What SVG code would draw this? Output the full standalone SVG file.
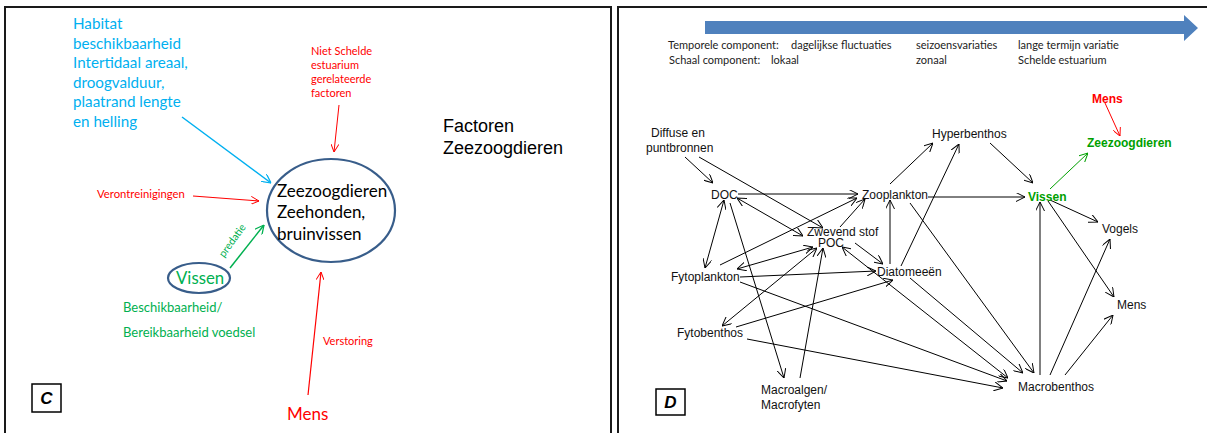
<svg xmlns="http://www.w3.org/2000/svg" width="1207" height="433" viewBox="0 0 1207 433">
  <style>
    .frame { fill: none; stroke: #1a1a1a; stroke-width: 2; }
    .cal { font-family: Lato, "Open Sans", sans-serif; }
    .ar { font-family: "Liberation Sans", Arial, sans-serif; font-size: 12px; fill: #111; }
    .hdr { font-family: Lato, "Open Sans", sans-serif; font-size: 11px; fill: #222; }
    .cyan { fill: #00B0F0; }
    .red { fill: #FF0000; }
    .green { fill: #00B050; }
    .e { fill: none; stroke: #000; stroke-width: 1; marker-end: url(#ah); }
    .e2 { marker-start: url(#ah); }
    .box { fill: #fff; stroke: #000; stroke-width: 1.5; }
    .tag { font-family: "Liberation Sans", Arial, sans-serif; font-size: 17px; font-weight: bold; font-style: italic; text-anchor: middle; }
    .ell { fill: none; stroke: #385D8A; stroke-width: 2.2; }
  </style>
  <defs>
    <marker id="ah" viewBox="0 0 10 10" refX="10" refY="5" markerWidth="9" markerHeight="9" markerUnits="userSpaceOnUse" orient="auto-start-reverse">
      <path d="M0,0 L10,5 L0,10" fill="none" stroke="#000" stroke-width="1.1"/>
    </marker>
    <marker id="ah-red" viewBox="0 0 10 10" refX="10" refY="5" markerWidth="8" markerHeight="8" markerUnits="userSpaceOnUse" orient="auto">
      <path d="M0,0 L10,5 L0,10" fill="none" stroke="#FF0000" stroke-width="1.2"/>
    </marker>
    <marker id="ah-cyan" viewBox="0 0 10 10" refX="10" refY="5" markerWidth="9" markerHeight="9" markerUnits="userSpaceOnUse" orient="auto">
      <path d="M0,0 L10,5 L0,10" fill="none" stroke="#00B0F0" stroke-width="1.4"/>
    </marker>
    <marker id="ah-green" viewBox="0 0 10 10" refX="10" refY="5" markerWidth="9" markerHeight="9" markerUnits="userSpaceOnUse" orient="auto">
      <path d="M0,0 L10,5 L0,10" fill="none" stroke="#00B050" stroke-width="1.4"/>
    </marker>
    <marker id="ah-green2" viewBox="0 0 10 10" refX="10" refY="5" markerWidth="9" markerHeight="9" markerUnits="userSpaceOnUse" orient="auto">
      <path d="M0,0 L10,5 L0,10" fill="none" stroke="#00A000" stroke-width="1.1"/>
    </marker>
  </defs>

  <rect width="1207" height="433" fill="#fff"/>

  <!-- Panel C: factors for marine mammals -->
  <g id="panel-c">
    <path class="frame" d="M5,440 V7 H611 V440"/>

    <g id="c-connectors">
      <line x1="182" y1="117" x2="271" y2="183" stroke="#00B0F0" stroke-width="1.5" marker-end="url(#ah-cyan)"/>
      <line x1="339" y1="105" x2="334" y2="152" stroke="#FF0000" stroke-width="1" marker-end="url(#ah-red)"/>
      <line x1="193" y1="196" x2="259" y2="201" stroke="#FF0000" stroke-width="1.2" marker-end="url(#ah-red)"/>
      <line x1="230" y1="268" x2="264" y2="225" stroke="#00B050" stroke-width="1.5" marker-end="url(#ah-green)"/>
      <line x1="308" y1="395" x2="321" y2="272" stroke="#FF0000" stroke-width="1.2" marker-end="url(#ah-red)"/>
    </g>

    <g id="c-habitat" class="cal cyan" font-size="15.2">
      <text x="73" y="29">Habitat</text>
      <text x="73" y="48.5">beschikbaarheid</text>
      <text x="73" y="68">Intertidaal areaal,</text>
      <text x="73" y="87.5">droogvalduur,</text>
      <text x="73" y="107">plaatrand lengte</text>
      <text x="73" y="126.5">en helling</text>
    </g>

    <g id="c-niet-schelde" class="cal red" font-size="11">
      <text x="311" y="55">Niet Schelde</text>
      <text x="311" y="69">estuarium</text>
      <text x="311" y="83">gerelateerde</text>
      <text x="311" y="97">factoren</text>
    </g>

    <g id="c-title" font-family="'Liberation Sans', Arial, sans-serif" font-size="18" fill="#000">
      <text x="443" y="132">Factoren</text>
      <text x="443" y="154">Zeezoogdieren</text>
    </g>

    <g id="c-zeezoogdieren">
      <ellipse class="ell" cx="331" cy="210.5" rx="64" ry="51.5"/>
      <g class="cal" font-size="17" fill="#000">
        <text x="277" y="197">Zeezoogdieren</text>
        <text x="277" y="218">Zeehonden,</text>
        <text x="277" y="240">bruinvissen</text>
      </g>
    </g>

    <g id="c-verontreinigingen">
      <text class="cal red" font-size="11.3" x="97" y="198">Verontreinigingen</text>
    </g>

    <g id="c-predatie">
      <text class="cal green" font-size="10.5" x="224" y="258" transform="rotate(-54 224 258)">predatie</text>
    </g>

    <g id="c-vissen">
      <ellipse class="ell" cx="199" cy="278" rx="31" ry="15"/>
      <text class="cal green" font-size="16.8" x="176" y="284">Vissen</text>
      <text class="cal green" font-size="13" x="123" y="312">Beschikbaarheid/</text>
      <text class="cal green" font-size="13" x="123" y="337">Bereikbaarheid voedsel</text>
    </g>

    <g id="c-verstoring">
      <text class="cal red" font-size="11" x="323" y="345">Verstoring</text>
    </g>

    <g id="c-mens">
      <text class="cal red" font-size="17" x="287" y="420">Mens</text>
    </g>

    <g id="c-label">
      <rect class="box" x="32" y="384" width="29" height="28"/>
      <text class="tag" x="46.5" y="404">C</text>
    </g>
  </g>

  <!-- Panel D: food web with temporal and spatial scale -->
  <g id="panel-d">
    <path class="frame" d="M618,440 V7 H1215"/>

    <g id="d-scale">
      <path d="M705,21 H1184 V15 L1198,28 L1184,41 V34 H705 Z" fill="#4F81BD"/>
      <text class="hdr" x="668" y="49">Temporele component:</text>
      <text class="hdr" x="791" y="49">dagelijkse fluctuaties</text>
      <text class="hdr" x="916" y="49">seizoensvariaties</text>
      <text class="hdr" x="1018" y="49">lange termijn variatie</text>
      <text class="hdr" x="669" y="64">Schaal component:</text>
      <text class="hdr" x="771" y="64">lokaal</text>
      <text class="hdr" x="916" y="64">zonaal</text>
      <text class="hdr" x="1018" y="64">Schelde estuarium</text>
    </g>

    <g id="d-connectors">
      <line class="e" x1="685" y1="157" x2="713" y2="183"/>
      <line class="e" x1="699" y1="157" x2="823" y2="228"/>
      <line class="e" x1="738" y1="194" x2="858" y2="194"/>
      <line class="e e2" x1="737" y1="198" x2="803" y2="236"/>
      <line class="e e2" x1="724" y1="200" x2="705" y2="268"/>
      <line class="e" x1="730" y1="203" x2="784" y2="378"/>
      <line class="e" x1="720" y1="265" x2="857" y2="198"/>
      <line class="e" x1="840" y1="227" x2="865" y2="199"/>
      <line class="e" x1="855" y1="243" x2="883" y2="264"/>
      <line class="e e2" x1="813" y1="247" x2="737" y2="269"/>
      <line class="e" x1="740" y1="277" x2="876" y2="271"/>
      <line class="e" x1="736" y1="327" x2="893" y2="280"/>
      <line class="e e2" x1="817" y1="248" x2="722" y2="326"/>
      <line class="e" x1="800" y1="378" x2="823" y2="248"/>
      <line class="e" x1="890" y1="264" x2="890" y2="200"/>
      <line class="e" x1="901" y1="266" x2="959" y2="144"/>
      <line class="e" x1="890" y1="184" x2="933" y2="143"/>
      <line class="e" x1="928" y1="197" x2="1025" y2="197"/>
      <line class="e" x1="990" y1="143" x2="1033" y2="183"/>
      <line x1="1050" y1="189" x2="1088" y2="153" stroke="#00A000" stroke-width="1" marker-end="url(#ah-green2)"/>
      <line x1="1105" y1="103" x2="1120" y2="136" stroke="#FF0000" stroke-width="1" marker-end="url(#ah-red)"/>
      <line class="e" x1="1050" y1="200" x2="1098" y2="222"/>
      <line class="e" x1="1048" y1="201" x2="1114" y2="297"/>
      <line x1="1040" y1="375" x2="1040" y2="202" stroke="#808080" stroke-width="2" marker-end="url(#ah)"/>
      <line class="e" x1="1050" y1="375" x2="1110" y2="239"/>
      <line class="e" x1="1065" y1="375" x2="1113" y2="315"/>
      <line class="e" x1="910" y1="203" x2="1034" y2="373"/>
      <line class="e" x1="910" y1="278" x2="1023" y2="373"/>
      <line class="e e2" x1="842" y1="247" x2="1008" y2="378"/>
      <line class="e" x1="740" y1="282" x2="1007" y2="381"/>
      <line class="e" x1="747" y1="339" x2="1003" y2="388"/>
    </g>

    <g id="d-diffuse"><text class="ar" x="651" y="137">Diffuse en</text><text class="ar" x="646" y="152">puntbronnen</text></g>
    <g id="d-doc"><text class="ar" x="711" y="199">DOC</text></g>
    <g id="d-zooplankton"><text class="ar" x="862" y="199">Zooplankton</text></g>
    <g id="d-hyperbenthos"><text class="ar" x="932" y="138">Hyperbenthos</text></g>
    <g id="d-zwevend-stof"><text class="ar" x="807" y="236">Zwevend stof</text><text class="ar" x="818" y="247">POC</text></g>
    <g id="d-diatomeeen"><text class="ar" x="877" y="276">Diatomeeën</text></g>
    <g id="d-fytoplankton"><text class="ar" x="671" y="281">Fytoplankton</text></g>
    <g id="d-fytobenthos"><text class="ar" x="677" y="337">Fytobenthos</text></g>
    <g id="d-macroalgen"><text class="ar" x="761" y="394">Macroalgen/</text><text class="ar" x="761" y="409">Macrofyten</text></g>
    <g id="d-macrobenthos"><text class="ar" x="1018" y="391">Macrobenthos</text></g>
    <g id="d-vissen"><text class="ar" x="1028" y="201" font-weight="bold" style="fill:#00A000">Vissen</text></g>
    <g id="d-zeezoogdieren"><text class="ar" x="1087" y="147" font-weight="bold" style="fill:#00A000">Zeezoogdieren</text></g>
    <g id="d-mens-top"><text class="ar" x="1092" y="103" font-weight="bold" style="fill:#FF0000">Mens</text></g>
    <g id="d-vogels"><text class="ar" x="1102" y="233">Vogels</text></g>
    <g id="d-mens"><text class="ar" x="1117" y="309">Mens</text></g>

    <g id="d-label">
      <rect class="box" x="656" y="389" width="29" height="26"/>
      <text class="tag" x="670.5" y="408">D</text>
    </g>
  </g>
</svg>
